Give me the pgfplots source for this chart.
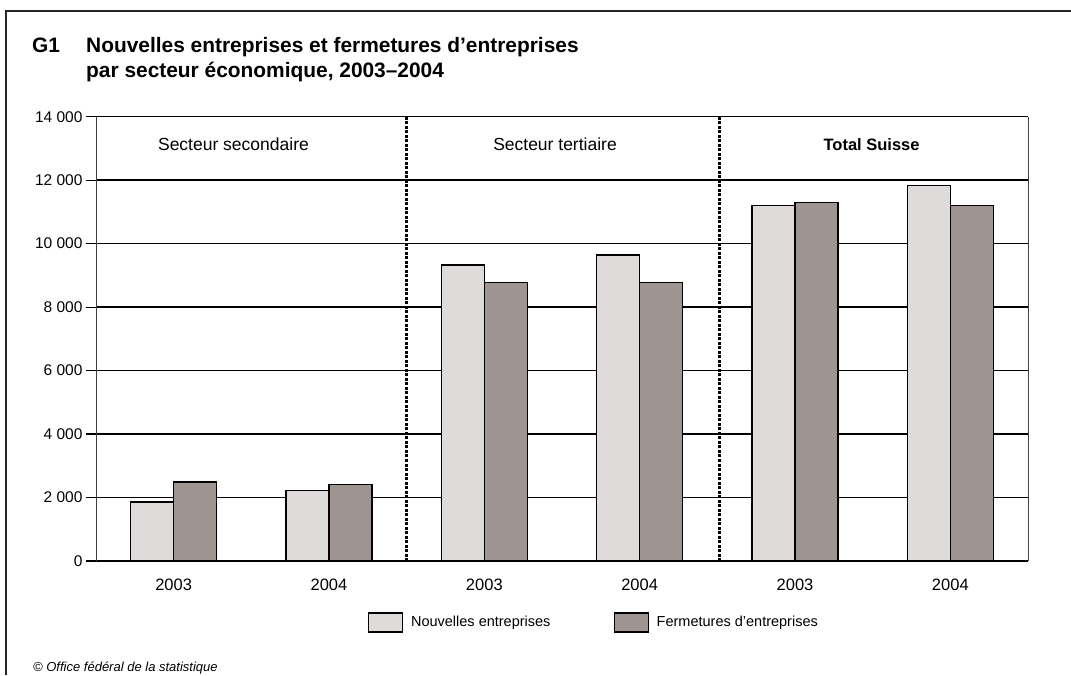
\documentclass[border=0pt]{standalone}
\usepackage{pgfplots}
\pgfplotsset{compat=1.18}
\usepackage{fontspec}
\setmainfont{Liberation Sans}
\definecolor{lightbar}{HTML}{DFDBDA}
\definecolor{darkbar}{HTML}{9E9592}
\begin{document}
\begin{tikzpicture}
\useasboundingbox (0pt,0pt) rectangle (1071pt,675pt);
\fill[white] (0pt,0pt) rectangle (1071pt,675pt);
\draw[line width=1.5pt, black!85] (6pt,0pt) -- (6pt,664pt) -- (1071pt,664pt);
\node[anchor=base west, inner sep=0pt, font=\fontsize{20.9}{25}\selectfont\bfseries] at (32pt,622pt) {G1};
\node[anchor=base west, inner sep=0pt, font=\fontsize{20.9}{25}\selectfont\bfseries] at (86pt,622pt) {Nouvelles entreprises et fermetures d'entreprises};
\node[anchor=base west, inner sep=0pt, font=\fontsize{20.9}{25}\selectfont\bfseries] at (86pt,597.5pt) {par secteur économique, 2003–2004};
\node[anchor=base west, inner sep=0pt, font=\fontsize{13}{15}\selectfont\itshape] at (33pt,3.5pt) {© Office fédéral de la statistique};
\begin{axis}[
  at={(96pt,114pt)}, anchor=south west,
  scale only axis, width=932pt, height=444.3pt,
  xmin=0, xmax=6, ymin=0, ymax=14000,
  ybar, bar width=0.277,
  xtick={0.5,1.5,2.5,3.5,4.5,5.5},
  xticklabels={2003,2004,2003,2004,2003,2004},
  xtick style={draw=none},
  ytick={0,2000,4000,6000,8000,10000,12000,14000},
  yticklabels={0,2 000,4 000,6 000,8 000,10 000,12 000,14 000},
  scaled y ticks=false,
  tick align=outside, major tick length=10pt,
  ytick style={line width=1.2pt, black},
  tick pos=left,
  ymajorgrids, grid style={line width=1.5pt, black},
  separate axis lines,
  x axis line style={line width=1.5pt, black},
  y axis line style={line width=0.9pt, black!75},
  axis x line=box, axis y line=box,
  ticklabel style={font=\fontsize{15.5}{17}\selectfont},
  xticklabel style={font=\fontsize{16.5}{18}\selectfont, yshift=-4pt},
  legend columns=2,
  legend style={at={(0.2915,-0.1384)}, anchor=west, draw=none, fill=none,
    inner sep=0pt, row sep=0pt,
    nodes={inner sep=0pt, font=\fontsize{14.5}{17}\selectfont},
    /tikz/every odd column/.append style={column sep=8pt},
    /tikz/every even column/.append style={column sep=63pt}},
  legend cell align=left,
]
\addplot[fill=lightbar, draw=black, line width=1.2pt, bar shift=-0.1385,
  legend image code/.code={\draw[fill=lightbar, draw=black, line width=1.2pt] (0pt,-9.5pt) rectangle (34pt,9.5pt);}]
  coordinates {(0.5,1860) (1.5,2210) (2.5,9330) (3.5,9640) (4.5,11190) (5.5,11820)};
\addplot[fill=darkbar, draw=black, line width=1.2pt, bar shift=0.1385,
  legend image code/.code={\draw[fill=darkbar, draw=black, line width=1.2pt] (0pt,-9.5pt) rectangle (34pt,9.5pt);}]
  coordinates {(0.5,2490) (1.5,2400) (2.5,8770) (3.5,8770) (4.5,11290) (5.5,11190)};
\legend{Nouvelles entreprises, Fermetures d'entreprises}
\draw[line width=3pt, dash pattern=on 3pt off 1.5pt] (axis cs:2,0) -- (axis cs:2,14000);
\draw[line width=3pt, dash pattern=on 3pt off 1.5pt] (axis cs:4.015,0) -- (axis cs:4.015,14000);
\node[anchor=base, font=\fontsize{17.5}{19}\selectfont] at (axis cs:0.885,12950) {Secteur secondaire};
\node[anchor=base, font=\fontsize{17.5}{19}\selectfont] at (axis cs:2.955,12950) {Secteur tertiaire};
\node[anchor=base, font=\fontsize{16.5}{18}\selectfont\bfseries] at (axis cs:4.993,12950) {Total Suisse};
\end{axis}
\end{tikzpicture}
\end{document}
